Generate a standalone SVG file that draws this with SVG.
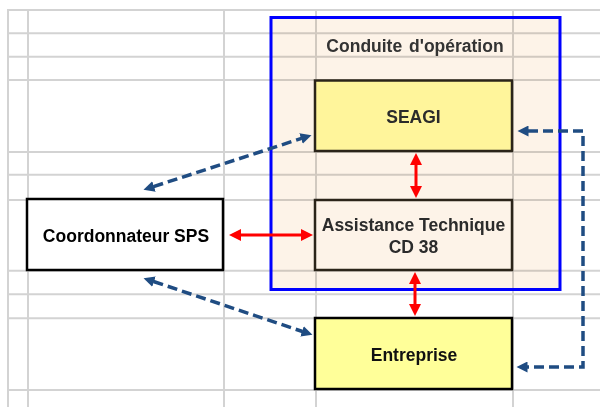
<svg xmlns="http://www.w3.org/2000/svg" width="600" height="407" viewBox="0 0 600 407">
<style>
.grid line{stroke:#d3d3d3;stroke-width:2}
.box{stroke-width:2.5}
.lbl{font-family:"Liberation Sans",Arial,sans-serif;font-weight:bold;font-size:17.5px;text-anchor:middle}
.red{stroke:#ff0000;stroke-width:3;fill:none;marker-start:url(#ra);marker-end:url(#ra)}
.dash{stroke:#1f4c82;stroke-width:3.5;fill:none;stroke-dasharray:10 5;marker-end:url(#ba)}
.dash2{marker-start:url(#ba)}
</style>
<defs>
<marker id="ra" markerUnits="userSpaceOnUse" markerWidth="13" markerHeight="12" refX="1" refY="6" orient="auto-start-reverse" viewBox="0 0 13 12">
<path d="M0,0 L12,6 L0,12 z" fill="#ff0000"/>
</marker>
<marker id="ba" markerUnits="userSpaceOnUse" markerWidth="12" markerHeight="11" refX="0.5" refY="5.5" orient="auto-start-reverse" viewBox="0 0 12 11">
<path d="M0,0 L11,5.5 L0,11 z" fill="#1f4c82"/>
</marker>
</defs>
<rect x="0" y="0" width="600" height="407" fill="#ffffff"/>
<rect x="271" y="17.5" width="289" height="272" fill="#fdf3e8"/>
<g class="grid" style="mix-blend-mode:multiply">
<line x1="7" y1="10" x2="600" y2="10"/>
<line x1="7" y1="33.3" x2="600" y2="33.3"/>
<line x1="7" y1="56.7" x2="600" y2="56.7"/>
<line x1="7" y1="80" x2="600" y2="80"/>
<line x1="7" y1="152" x2="600" y2="152"/>
<line x1="7" y1="174.7" x2="600" y2="174.7"/>
<line x1="7" y1="200" x2="600" y2="200"/>
<line x1="7" y1="270.7" x2="600" y2="270.7"/>
<line x1="7" y1="294.3" x2="600" y2="294.3"/>
<line x1="7" y1="318.3" x2="600" y2="318.3"/>
<line x1="7" y1="390" x2="600" y2="390"/>
<line x1="8" y1="9" x2="8" y2="407"/>
<line x1="28" y1="9" x2="28" y2="407"/>
<line x1="224" y1="9" x2="224" y2="407"/>
<line x1="316" y1="9" x2="316" y2="407"/>
<line x1="513" y1="9" x2="513" y2="407"/>
</g>
<g id="conduite">
<rect x="271" y="17.5" width="289" height="272" fill="none" stroke="#0000ff" stroke-width="3"/>
<text class="lbl" x="415" y="52" fill="#333333" word-spacing="2">Conduite d'opération</text>
</g>
<g id="seagi">
<rect class="box" x="315" y="80.5" width="197" height="70.5" fill="#fff59b" stroke="#2b2419"/>
<text class="lbl" x="413.5" y="123" fill="#2b2b2b">SEAGI</text>
</g>
<g id="assistance">
<rect class="box" x="315" y="200" width="197" height="70" fill="#fdf3e8" stroke="#2b2419"/>
<text class="lbl" x="413.5" y="231" fill="#2b2b2b">Assistance Technique</text>
<text class="lbl" x="413.5" y="253" fill="#2b2b2b">CD 38</text>
</g>
<g id="coordonnateur">
<rect class="box" x="27" y="199" width="196" height="71" fill="#ffffff" stroke="#000000"/>
<text class="lbl" x="126" y="242" fill="#000000">Coordonnateur SPS</text>
</g>
<g id="entreprise">
<rect class="box" x="315" y="318" width="197" height="71" fill="#ffff99" stroke="#000000"/>
<text class="lbl" x="414" y="361" fill="#111111">Entreprise</text>
</g>
<g id="connectors">
<line class="red" x1="416" y1="164" x2="416" y2="187"/>
<line class="red" x1="240" y1="235" x2="302" y2="235"/>
<line class="red" x1="415" y1="283" x2="415" y2="305"/>
<line class="dash dash2" x1="153.5" y1="186.6" x2="301.5" y2="138.4"/>
<line class="dash dash2" x1="153.5" y1="281.5" x2="302.5" y2="331.5"/>
<path class="dash" d="M528,131 L583,131 L583,367 L527,367" marker-start="url(#ba)"/>
</g>
</svg>
